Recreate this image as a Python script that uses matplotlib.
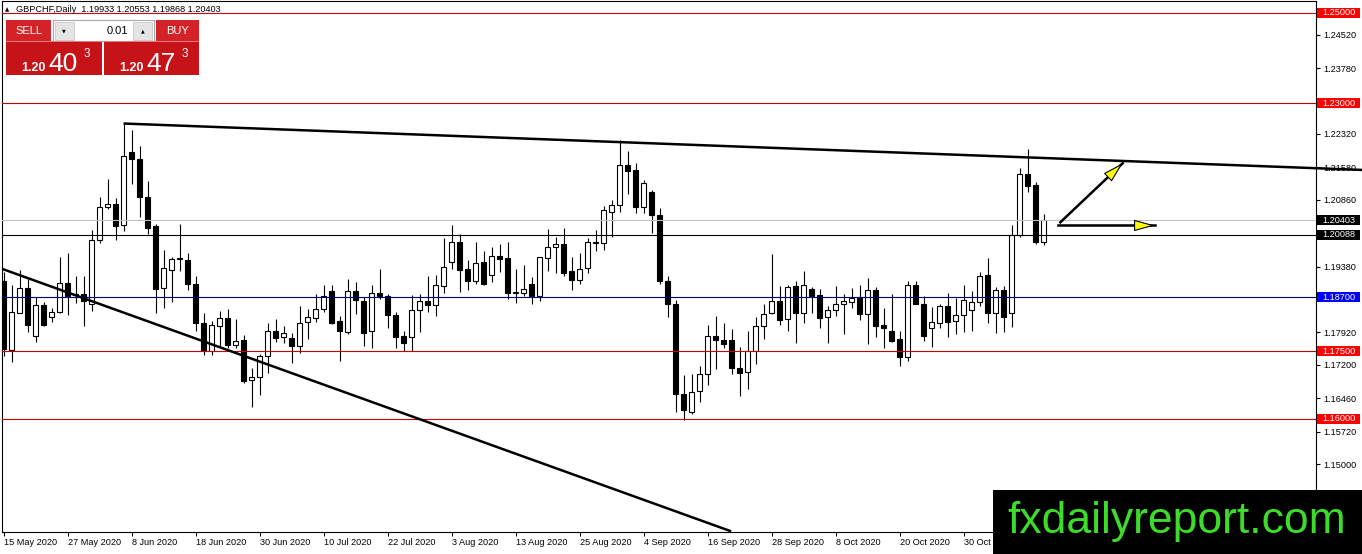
import numpy as np
import matplotlib
matplotlib.use('Agg')
import matplotlib.pyplot as plt
from matplotlib.patches import Rectangle, FancyArrowPatch
from matplotlib.transforms import blended_transform_factory

plt.rcParams['font.family'] = ['Liberation Sans', 'DejaVu Sans']

# GBPCHF daily bars, 15 May 2020 .. 13 Nov 2020
opens = np.array([
    1.1907, 1.1753, 1.1836, 1.1891, 1.1785, 1.1853, 1.1827, 1.1838, 1.1902, 1.1874,
    1.1876, 1.1855, 1.1997, 1.2070, 1.2077, 1.2029, 1.2191, 1.2177, 1.2093, 1.2027,
    1.1891, 1.1931, 1.1956, 1.1953, 1.1900, 1.1813, 1.1750, 1.1807, 1.1824, 1.1765,
    1.1775, 1.1686, 1.1692, 1.1740, 1.1795, 1.1781, 1.1780, 1.1762, 1.1814, 1.1824,
    1.1844, 1.1883, 1.1817, 1.1793, 1.1883, 1.1862, 1.1795, 1.1880, 1.1873, 1.1830,
    1.1783, 1.1782, 1.1842, 1.1862, 1.1853, 1.1895, 1.1949, 1.1993, 1.1932, 1.1907,
    1.1949, 1.1920, 1.1962, 1.1956, 1.1879, 1.1879, 1.1900, 1.1873, 1.1957, 1.1981,
    1.1987, 1.1927, 1.1908, 1.1935, 1.1993, 1.1990, 1.2059, 1.2075, 1.2164, 1.2152,
    1.2070, 1.2103, 1.2053, 1.1907, 1.1856, 1.1655, 1.1616, 1.1662, 1.1699, 1.1785,
    1.1775, 1.1775, 1.1714, 1.1705, 1.1750, 1.1807, 1.1834, 1.1862, 1.1822, 1.1894,
    1.1836, 1.1889, 1.1874, 1.1825, 1.1841, 1.1855, 1.1860, 1.1869, 1.1832, 1.1885,
    1.1808, 1.1795, 1.1777, 1.1738, 1.1896, 1.1856, 1.1801, 1.1813, 1.1851, 1.1817,
    1.1830, 1.1842, 1.1860, 1.1920, 1.1834, 1.1886, 1.1834, 1.2007, 1.2144, 1.2118,
    1.19933])
highs = np.array([
    1.1925, 1.1898, 1.1931, 1.1911, 1.1871, 1.1859, 1.1847, 1.1959, 1.1968, 1.1917,
    1.1918, 1.2020, 1.2093, 1.2132, 1.2091, 1.2255, 1.2241, 1.2205, 1.2128, 1.2033,
    1.1975, 1.1959, 1.2033, 1.1967, 1.1917, 1.1836, 1.1817, 1.1840, 1.1844, 1.1822,
    1.1787, 1.1714, 1.1744, 1.1813, 1.1822, 1.1806, 1.1790, 1.1850, 1.1843, 1.1877,
    1.1896, 1.1897, 1.1828, 1.1911, 1.1903, 1.1871, 1.1897, 1.1933, 1.1877, 1.1838,
    1.1796, 1.1874, 1.1877, 1.1918, 1.1919, 1.2001, 1.2030, 1.2010, 1.1953, 1.1992,
    1.1972, 1.1982, 1.1988, 1.1993, 1.1933, 1.1942, 1.1914, 1.1960, 1.2021, 1.2003,
    1.2024, 1.1959, 1.1968, 1.2001, 1.2018, 1.2073, 1.2085, 1.2218, 1.2194, 1.2168,
    1.2130, 1.2107, 1.2067, 1.1917, 1.1864, 1.1697, 1.1700, 1.1717, 1.1808, 1.1829,
    1.1813, 1.1800, 1.1759, 1.1794, 1.1827, 1.1855, 1.1965, 1.1894, 1.1897, 1.1905,
    1.1929, 1.1892, 1.1889, 1.1851, 1.1894, 1.1876, 1.1891, 1.1898, 1.1913, 1.1892,
    1.1845, 1.1876, 1.1795, 1.1907, 1.1907, 1.1873, 1.1848, 1.1855, 1.1880, 1.1868,
    1.1898, 1.1883, 1.1925, 1.1957, 1.1892, 1.1894, 1.2031, 1.2156, 1.2198, 1.2125,
    1.20553])
lows = np.array([
    1.1740, 1.1727, 1.1834, 1.1792, 1.1770, 1.1807, 1.1816, 1.1834, 1.1830, 1.1858,
    1.1807, 1.1839, 1.1990, 1.2065, 1.1997, 1.2016, 1.2121, 1.2047, 1.2009, 1.1834,
    1.1847, 1.1859, 1.1929, 1.1886, 1.1796, 1.1742, 1.1742, 1.1762, 1.1758, 1.1758,
    1.1679, 1.1627, 1.1653, 1.1701, 1.1770, 1.1768, 1.1725, 1.1747, 1.1777, 1.1816,
    1.1838, 1.1810, 1.1729, 1.1788, 1.1832, 1.1762, 1.1757, 1.1867, 1.1802, 1.1757,
    1.1751, 1.1751, 1.1793, 1.1838, 1.1829, 1.1880, 1.1933, 1.1882, 1.1887, 1.1900,
    1.1898, 1.1904, 1.1925, 1.1867, 1.1858, 1.1872, 1.1855, 1.1862, 1.1927, 1.1923,
    1.1918, 1.1887, 1.1900, 1.1923, 1.1972, 1.1975, 1.2004, 1.2059, 1.2099, 1.2057,
    1.2056, 1.2012, 1.1900, 1.1827, 1.1615, 1.1598, 1.1612, 1.1637, 1.1675, 1.1710,
    1.1757, 1.1699, 1.1652, 1.1666, 1.1721, 1.1777, 1.1833, 1.1808, 1.1794, 1.1769,
    1.1813, 1.1834, 1.1801, 1.1769, 1.1828, 1.1788, 1.1845, 1.1820, 1.1766, 1.1782,
    1.1757, 1.1770, 1.1717, 1.1729, 1.1855, 1.1774, 1.1759, 1.1801, 1.1781, 1.1788,
    1.1793, 1.1796, 1.1851, 1.1813, 1.1790, 1.1793, 1.1803, 1.2004, 1.2104, 1.1987,
    1.19868])
closes = np.array([
    1.1755, 1.1837, 1.1891, 1.1808, 1.1853, 1.1809, 1.1837, 1.1902, 1.1873, 1.1877,
    1.1861, 1.1996, 1.2070, 1.2077, 1.2028, 1.2182, 1.2177, 1.2093, 1.2024, 1.1888,
    1.1935, 1.1955, 1.1954, 1.1900, 1.1812, 1.1750, 1.1809, 1.1824, 1.1764, 1.1773,
    1.1685, 1.1692, 1.1740, 1.1795, 1.1780, 1.1790, 1.1762, 1.1812, 1.1825, 1.1844,
    1.1873, 1.1813, 1.1796, 1.1883, 1.1864, 1.1790, 1.1879, 1.1872, 1.1830, 1.1782,
    1.1769, 1.1842, 1.1862, 1.1852, 1.1896, 1.1938, 1.1993, 1.1931, 1.1907, 1.1946,
    1.1900, 1.1962, 1.1955, 1.1879, 1.1881, 1.1889, 1.1873, 1.1959, 1.1982, 1.1987,
    1.1923, 1.1908, 1.1933, 1.1993, 1.1990, 1.2064, 1.2075, 1.2164, 1.2150, 1.2070,
    1.2123, 1.2053, 1.1907, 1.1856, 1.1655, 1.1621, 1.1659, 1.1699, 1.1785, 1.1775,
    1.1766, 1.1714, 1.1703, 1.1750, 1.1806, 1.1832, 1.1862, 1.1820, 1.1892, 1.1836,
    1.1897, 1.1873, 1.1823, 1.1842, 1.1855, 1.1862, 1.1869, 1.1832, 1.1885, 1.1807,
    1.1802, 1.1773, 1.1738, 1.1898, 1.1856, 1.1785, 1.1816, 1.1851, 1.1816, 1.1830,
    1.1864, 1.1860, 1.1918, 1.1834, 1.1886, 1.1825, 1.2007, 1.2144, 1.2117, 1.1993,
    1.20403])

date_labels = ['15 May 2020', '27 May 2020', '8 Jun 2020', '18 Jun 2020', '30 Jun 2020',
               '10 Jul 2020', '22 Jul 2020', '3 Aug 2020', '13 Aug 2020', '25 Aug 2020',
               '4 Sep 2020', '16 Sep 2020', '28 Sep 2020', '8 Oct 2020', '20 Oct 2020',
               '30 Oct 2020']
date_label_bars = list(range(0, 121, 8))

price_ticks = [1.2452, 1.2378, 1.2232, 1.2158, 1.2086, 1.1938, 1.1792,
               1.1720, 1.1646, 1.1572, 1.1500]

levels = [1.25, 1.23, 1.187, 1.175, 1.16, 1.20088, 1.20403]
level_colors = ['#c80000', '#c80000', '#000080', '#c80000', '#c80000', 'black', '#c0c0c0']
label_colors = ['#ff0000', '#ff0000', '#0000ff', '#ff0000', '#ff0000', 'black', 'black']

# trendlines as (bar index, price) pairs
upper_trend_x = [15, 170]
upper_trend_y = [1.2255, 1.2152]
lower_trend_x = [-0.2, 90.8]
lower_trend_y = [1.1933, 1.1352]

# projection arrows: (start, end) in (bar, price)
arrows = [((132.1, 1.2036), (139.9, 1.2167)),
          ((131.8, 1.2029), (143.9, 1.2029))]

sell_quote = '1.20403'
buy_quote = '1.20473'

W, H = 1362, 554
fig = plt.figure(figsize=(W / 100, H / 100), dpi=100)
ax_px = (2, 1, 1316, 532)  # left, top, right, bottom in pixels
ax = fig.add_axes([ax_px[0] / W, (H - ax_px[3]) / H,
                   (ax_px[2] - ax_px[0]) / W, (ax_px[3] - ax_px[1]) / H])
ax.set_facecolor('white')

ymin, ymax = 1.13495, 1.25266
ax.set_xlim(-0.1875, 164.06)
ax.set_ylim(ymin, ymax)
px_per_price = (ax_px[3] - ax_px[1]) / (ymax - ymin)
axw = ax_px[2] - ax_px[0]

x = np.arange(len(opens))
ax.vlines(x, lows, highs, color='black', lw=0.8, zorder=3)
up = closes >= opens
ax.bar(x[up], closes[up] - opens[up], bottom=opens[up], width=0.55,
       color='white', edgecolor='black', linewidth=0.8, zorder=4)
ax.bar(x[~up], opens[~up] - closes[~up], bottom=closes[~up], width=0.55,
       color='black', edgecolor='black', linewidth=0.8, zorder=4)

for lev, c in zip(levels, level_colors):
    ax.axhline(lev, color=c, lw=0.8, zorder=5)

ax.plot(upper_trend_x, upper_trend_y, color='black', lw=1.8, zorder=6,
        clip_on=False, solid_capstyle='butt')
ax.plot(lower_trend_x, lower_trend_y, color='black', lw=1.8, zorder=6)

for (x0, y0), (x1, y1) in arrows:
    ax.plot([x0, x1], [y0, y1], color='black', lw=1.8, zorder=7)
    ax.add_patch(FancyArrowPatch((x0, y0), (x1, y1),
                                 arrowstyle='-|>,head_length=1.3,head_width=0.36',
                                 mutation_scale=10, fc='#ffff00', ec='black',
                                 lw=0.8, shrinkA=0, shrinkB=0, zorder=8))

# axes styling
for s in ax.spines.values():
    s.set_color('black')
    s.set_linewidth(0.8)
ax.yaxis.tick_right()
ax.set_yticks(price_ticks)
ax.set_yticklabels([f'{p:.5f}' for p in price_ticks])
ax.tick_params(axis='y', length=3, width=0.8, pad=2, labelsize=6.6, colors='black')
ax.set_xticks(date_label_bars)
ax.set_xticklabels(date_labels)
for lab in ax.get_xticklabels():
    lab.set_horizontalalignment('left')
ax.tick_params(axis='x', length=3, width=0.8, pad=1.5, labelsize=6.6)

# coloured price labels on the right scale
trans = blended_transform_factory(ax.transAxes, ax.transData)
bh = 10 / px_per_price
for lev, c in zip(levels, label_colors):
    ax.add_patch(Rectangle((1 + 1 / axw, lev - bh / 2), 43 / axw, bh, transform=trans,
                           fc=c, ec='none', clip_on=False, zorder=9))
    ax.text(1 + 6 / axw, lev, f'{lev:.5f}', transform=trans, color='white',
            fontsize=6.6, ha='left', va='center', clip_on=False, zorder=10)

# overlay in pixel coordinates for the trade panel and the watermark
ov = fig.add_axes([0, 0, 1, 1], zorder=10)
ov.set_xlim(0, W)
ov.set_ylim(H, 0)
ov.axis('off')

ov.text(5, 10, '\u25b2', fontsize=4, ha='left', va='center', family='DejaVu Sans')
ov.text(16, 10, f'GBPCHF,Daily  {opens[-1]:.5f} {highs[-1]:.5f} {lows[-1]:.5f} {closes[-1]:.5f}',
        fontsize=6.6, ha='left', va='center')

btn_red = '#d42328'
box_red = '#c51318'
ov.add_patch(Rectangle((6, 20), 45, 21, fc=btn_red, ec='none'))
ov.text(28.5, 31, 'SELL', color='white', fontsize=8, ha='center', va='center')
ov.add_patch(Rectangle((156, 20), 43, 21, fc=btn_red, ec='none'))
ov.text(177.5, 31, 'BUY', color='white', fontsize=8, ha='center', va='center')

ov.add_patch(Rectangle((53, 20), 101, 21, fc='white', ec='#a8a8a8', lw=0.8))
ov.add_patch(Rectangle((54.5, 21.5), 19, 18, fc='#e4e4e4', ec='#c8c8c8', lw=0.6))
ov.add_patch(Rectangle((133, 21.5), 19, 18, fc='#e4e4e4', ec='#c8c8c8', lw=0.6))
ov.text(64, 31, '\u25bc', fontsize=3.5, ha='center', va='center', family='DejaVu Sans')
ov.text(142.5, 31, '\u25b2', fontsize=3.5, ha='center', va='center', family='DejaVu Sans')
ov.text(128, 31, '0.01', fontsize=8, ha='right', va='center')

for x0, w, quote in [(6, 96, sell_quote), (104, 95, buy_quote)]:
    ov.add_patch(Rectangle((x0, 42), w, 33, fc=box_red, ec='none'))
    ov.add_patch(Rectangle((x0, 41), w, 1, fc='#e87a7d', ec='none'))
    ov.text(x0 + 15, 71, quote[:4], color='white', fontsize=9, fontweight='bold',
            ha='left', va='baseline')
    ov.text(x0 + 42, 71, quote[4:6], color='white', fontsize=19, ha='left', va='baseline')
    ov.text(x0 + 78, 57, quote[6], color='white', fontsize=8.5, ha='left', va='baseline')

ov.add_patch(Rectangle((993, 490), 369, 64, fc='black', ec='none'))
ov.text(1177, 521, 'fxdailyreport.com', color='#3ddc2a', fontsize=32,
        ha='center', va='center')

fig.savefig('out.png', dpi=100)
